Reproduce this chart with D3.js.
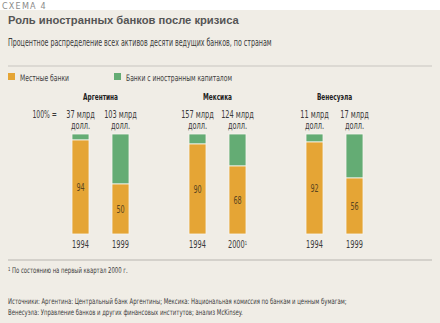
<!DOCTYPE html>
<html lang="ru">
<head>
<meta charset="UTF-8">
<title>Роль иностранных банков после кризиса</title>
<script src="https://d3js.org/d3.v7.min.js"></script>
<style>
  body { margin: 0; background: #fff; }
  svg { display: block; }
  text { font-family: "DejaVu Sans Condensed", "DejaVu Sans", sans-serif; }
</style>
</head>
<body>
<svg width="440" height="323"></svg>
<script>
const countries = ["Аргентина", "Мексика", "Венесуэла"];
const years = [["1994", "1999"], ["1994", "2000"], ["1994", "1999"]];
const yearNotes = [["", ""], ["", "1"], ["", ""]];
const totals = [["37", "103"], ["157", "124"], ["11", "17"]];
const localShare = [[94, 50], [90, 68], [92, 56]];
const legendLabels = ["Местные банки", "Банки с иностранным капиталом"];

const orange = "#e5a535", green = "#64ac74", bg = "#f0ede6", ink = "#3a3a3a";

const svg = d3.select("svg");
svg.append("rect").attr("x", 0).attr("y", 10).attr("width", 440).attr("height", 313).attr("fill", bg);

// narrow text: the original uses a condensed face, so squeeze horizontally
function label(parent, x, y, str, size, opts = {}) {
  const t = parent.append("text")
    .attr("transform", `translate(${x},${y}) scale(${opts.sx || 0.735},1)`)
    .attr("font-size", size)
    .attr("fill", opts.fill || ink)
    .attr("text-anchor", opts.anchor || "start")
    .text(str);
  if (opts.bold) t.attr("font-weight", "bold");
  return t;
}

svg.append("text").attr("x", 2).attr("y", 9)
  .attr("font-size", 9).attr("letter-spacing", 1.2).attr("fill", "#8a8a8a")
  .text("СХЕМА  4");

svg.append("text").attr("x", 8).attr("y", 24)
  .style("font-family", "'Liberation Sans', Arial, sans-serif")
  .attr("font-size", 11.2).attr("font-weight", "bold").attr("fill", "#555")
  .text("Роль иностранных банков после кризиса");

label(svg, 8, 46, "Процентное распределение всех активов десяти ведущих банков, по странам", 10, { sx: 0.703 });

svg.append("line").attr("x1", 8).attr("x2", 432).attr("y1", 66).attr("y2", 66)
  .attr("stroke", "#c8c6c0").attr("stroke-width", 1.2);

// legend
[[8, orange], [114, green]].forEach(([x, c], i) => {
  svg.append("rect").attr("x", x).attr("y", 73).attr("width", 7).attr("height", 7).attr("fill", c);
  label(svg, x + 12, 80.5, legendLabels[i], 9, { sx: 0.746 });
});

const x0 = d3.scaleBand().domain(countries).range([42, 393]);
const y = d3.scaleLinear().domain([0, 100]).range([234, 134]);

countries.forEach((country, ci) => {
  const cx = x0(country) + x0.bandwidth() / 2;
  const x1 = d3.scaleBand().domain(years[ci].map((d, i) => i))
    .range([cx - 40, cx + 40]).paddingInner(0.575).paddingOuter(0.2875);
  const g = svg.append("g");

  label(g, cx, 99.5, country, 9.5, { anchor: "middle", bold: true, fill: "#222", sx: 0.68 });

  years[ci].forEach((yr, i) => {
    const bx = x1(i), bw = x1.bandwidth(), mx = bx + bw / 2;
    const v = localShare[ci][i];
    g.append("rect").attr("x", bx).attr("y", y(100)).attr("width", bw)
      .attr("height", y(v) - y(100)).attr("fill", green)
      .attr("stroke", "#f7f5ef").attr("stroke-width", 0.8);
    g.append("rect").attr("x", bx).attr("y", y(v)).attr("width", bw)
      .attr("height", y(0) - y(v)).attr("fill", orange)
      .attr("stroke", "#f7f5ef").attr("stroke-width", 0.8);
    label(g, mx, (y(v) + y(0)) / 2 + 3.6, v, 10, { anchor: "middle", fill: "#5a4520", sx: 0.72 });
    label(g, mx, 118, totals[ci][i] + " млрд", 10, { anchor: "middle" });
    label(g, mx, 128.5, "долл.", 10, { anchor: "middle" });
    const yt = label(g, mx, 248, yr, 10, { anchor: "middle" });
    if (yearNotes[ci][i]) {
      yt.append("tspan").attr("dy", -3.5).attr("font-size", 5.5).text(yearNotes[ci][i]);
    }
  });
});

label(svg, 57, 118, "100% =", 10, { anchor: "end", sx: 0.68 });

svg.append("line").attr("x1", 8).attr("x2", 432).attr("y1", 260).attr("y2", 260)
  .attr("stroke", "#a9a7a2").attr("stroke-width", 0.8);

const fn = label(svg, 8, 273, "", 8, { sx: 0.74 });
fn.append("tspan").attr("font-size", 5.5).attr("dy", -2).text("1");
fn.append("tspan").attr("dy", 2).text("  По состоянию на первый квартал 2000 г.");

label(svg, 8, 304, "Источники: Аргентина: Центральный банк Аргентины; Мексика: Национальная комиссия по банкам и ценным бумагам;", 8, { sx: 0.74 });
label(svg, 8, 315, "Венесуэла: Управление банков и других финансовых институтов; анализ McKinsey.", 8, { sx: 0.74 });
</script>
</body>
</html>
